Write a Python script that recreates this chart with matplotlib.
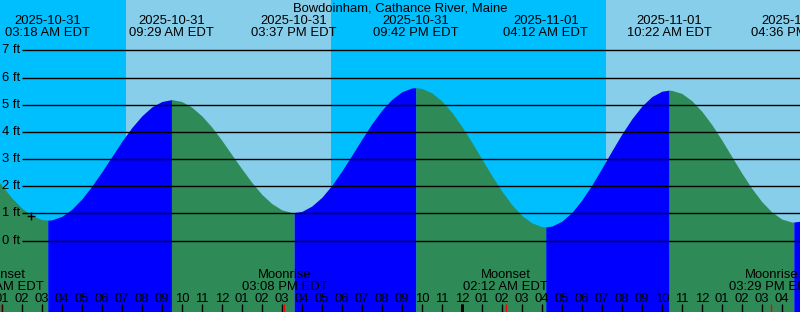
import matplotlib
matplotlib.use("Agg")
import matplotlib.pyplot as plt
import numpy as np

# ---------------- data (hours since 2025-10-31 00:00 EDT) ----------------
title = "Bowdoinham, Cathance River, Maine"

tide_hours = [0.5, 1.0, 1.5, 2.0, 2.5, 3.0, 3.3, 3.5, 4.0, 4.5, 5.0, 5.5, 6.0, 6.5,
              7.0, 7.5, 8.0, 8.5, 9.0, 9.483, 9.5, 10.0, 10.5, 11.0, 11.5, 12.0,
              12.5, 13.0, 13.5, 14.0, 14.5, 15.0, 15.5, 15.617, 16.0, 16.5, 17.0,
              17.5, 18.0, 18.5, 19.0, 19.5, 20.0, 20.5, 21.0, 21.5, 21.7, 22.0,
              22.5, 23.0, 23.5, 24.0, 24.5, 25.0, 25.5, 26.0, 26.5, 27.0, 27.5,
              28.0, 28.2, 28.5, 29.0, 29.5, 30.0, 30.5, 31.0, 31.5, 32.0, 32.5,
              33.0, 33.5, 34.0, 34.367, 34.5, 35.0, 35.5, 36.0, 36.5, 37.0, 37.5,
              38.0, 38.5, 39.0, 39.5, 40.0, 40.5, 40.6, 41.0]
tide_feet = [2.53, 2.02, 1.57, 1.19, 0.92, 0.77, 0.75, 0.76, 0.89, 1.15, 1.53, 2.00,
             2.53, 3.09, 3.65, 4.16, 4.59, 4.92, 5.12, 5.19, 5.19, 5.12, 4.91, 4.59,
             4.18, 3.69, 3.16, 2.64, 2.14, 1.70, 1.36, 1.13, 1.03, 1.03, 1.07, 1.27,
             1.59, 2.03, 2.56, 3.14, 3.73, 4.30, 4.80, 5.20, 5.48, 5.62, 5.63, 5.60,
             5.44, 5.14, 4.72, 4.20, 3.62, 3.00, 2.39, 1.82, 1.32, 0.92, 0.65, 0.51,
             0.50, 0.53, 0.71, 1.03, 1.49, 2.04, 2.66, 3.30, 3.92, 4.48, 4.95, 5.30,
             5.50, 5.54, 5.53, 5.42, 5.15, 4.76, 4.27, 3.70, 3.09, 2.48, 1.92, 1.43,
             1.05, 0.79, 0.68, 0.68, 0.72]

extreme_hours = [3.300, 9.483, 15.617, 21.700, 28.200, 34.367, 40.600]
extreme_kinds = ["L", "H", "L", "H", "L", "H", "L"]
extreme_dates = ["2025-10-31", "2025-10-31", "2025-10-31", "2025-10-31",
                 "2025-11-01", "2025-11-01", "2025-11-01"]
extreme_times = ["03:18 AM EDT", "09:29 AM EDT", "03:37 PM EDT", "09:42 PM EDT",
                 "04:12 AM EDT", "10:22 AM EDT", "04:36 PM EDT"]

day_starts = [7.215, 31.215]
day_ends = [17.465, 41.5]

moon_hours = [0.96, 15.133, 26.2, 39.483]
moon_events = ["Moonset", "Moonrise", "Moonset", "Moonrise"]
moon_times = ["12:57 AM EDT", "03:08 PM EDT", "02:12 AM EDT", "03:29 PM EDT"]

level_ticks = [0, 1, 2, 3, 4, 5, 6, 7]
hour_ticks = list(range(1, 41))
hour_labels = ["%02d" % (12 if hh % 12 == 0 else hh % 12) for hh in hour_ticks]
midnight_hours = [24]

mark_hour = 2.45
mark_feet = 0.9

# ---------------- styling ----------------
W, H = 800, 312
T0 = 0.91
NIGHT = "#00BFFF"
DAY = "#87CEEB"
RISE = "#0000FF"
FALL = "#2E8B57"
FONT = "Liberation Sans"
FS = 9.4
PX = 0.72  # one pixel in points

fig = plt.figure(figsize=(W / 100, H / 100), dpi=100)
ax = fig.add_axes([0, 0, 1, 1])
ax.set_xlim(T0, T0 + 40)
ybot = -71.5 / 27.143
ytop = (H - 71.5) / 27.143
ax.set_ylim(ybot, ytop)
ax.axis("off")
ax.add_patch(plt.Rectangle((0, 0), 1, 1, transform=ax.transAxes, color=NIGHT, zorder=0))
for a, b in zip(day_starts, day_ends):
    ax.axvspan(a, b, color=DAY, lw=0, zorder=1)

t = np.array(tide_hours)
h = np.array(tide_feet)
bounds = [t.min()] + extreme_hours + [t.max()]
kinds_end = extreme_kinds + ["H"]
for i in range(len(bounds) - 1):
    a, b = bounds[i], bounds[i + 1]
    m = (t >= a - 1e-9) & (t <= b + 1e-9)
    col = RISE if kinds_end[i] == "H" else FALL
    ax.fill_between(t[m], h[m], ybot, color=col, lw=0, zorder=2)

# level lines and labels
ax.hlines(level_ticks, 22 / W, 1, transform=ax.get_yaxis_transform(),
          color="black", lw=1.0, zorder=3)
for lv in level_ticks:
    ax.text(2 / W, lv, "%d ft" % lv, transform=ax.get_yaxis_transform(),
            ha="left", va="center", fontsize=FS, family=FONT, zorder=4)

# mark
ax.plot([mark_hour], [mark_feet], marker="+", ms=8 * PX, mew=1.0, color="black", zorder=5)

xt = ax.get_xaxis_transform()


def ypix(p):
    return 1 - p / H


# title and extreme labels
ax.text(0.5, ypix(11.5), title, transform=ax.transAxes, ha="center", va="baseline",
        fontsize=FS, family=FONT, zorder=6)
for x, d, tm in zip(extreme_hours, extreme_dates, extreme_times):
    ax.text(x, ypix(23.5), d, transform=xt, ha="center", va="baseline",
            fontsize=FS, family=FONT, zorder=6)
    ax.text(x, ypix(35.5), tm, transform=xt, ha="center", va="baseline",
            fontsize=FS, family=FONT, zorder=6)

# moon labels
for x, ev, tm in zip(moon_hours, moon_events, moon_times):
    ax.text(x, ypix(277.5), ev, transform=xt, ha="center", va="baseline",
            fontsize=FS, family=FONT, zorder=6)
    ax.text(x, ypix(289.5), tm, transform=xt, ha="center", va="baseline",
            fontsize=FS, family=FONT, zorder=6)

# hour labels and ticks
for x, lab in zip(hour_ticks, hour_labels):
    ax.text(x, ypix(301.5), lab, transform=xt, ha="center", va="baseline",
            fontsize=FS, family=FONT, zorder=6)
ax.vlines(hour_ticks, 0, 8 / H, transform=xt, color="black", lw=1.0, zorder=6)
ax.vlines(midnight_hours, 0, 8 / H, transform=xt, color="black", lw=3 * PX, zorder=6)
ax.vlines(moon_hours, 0, 8 / H, transform=xt, color="red", lw=1.0, zorder=7)

fig.savefig("out.png", dpi=100)
